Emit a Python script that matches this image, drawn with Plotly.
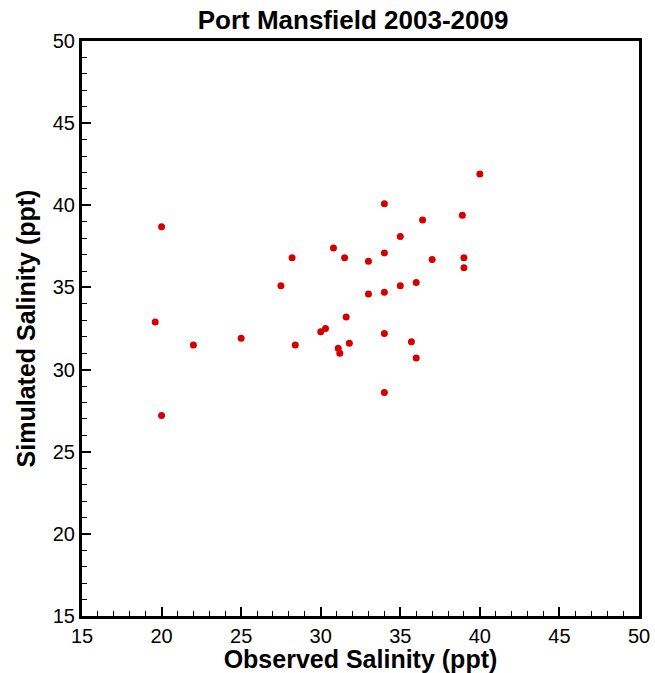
import plotly.graph_objects as go

observed = [20.0, 28.2, 30.8, 31.5, 33.0, 27.5, 33.0, 31.6, 19.6, 30.3, 30.0, 22.0,
            25.0, 28.4, 31.8, 31.1, 31.2, 20.0, 40.0, 34.0, 36.4, 38.9, 35.0, 34.0,
            37.0, 39.0, 39.0, 36.0, 35.0, 34.0, 34.0, 35.7, 36.0, 34.0]
simulated = [38.7, 36.8, 37.4, 36.8, 36.6, 35.1, 34.6, 33.2, 32.9, 32.5, 32.3, 31.5,
             31.9, 31.5, 31.6, 31.3, 31.0, 27.2, 41.9, 40.1, 39.1, 39.4, 38.1, 37.1,
             36.7, 36.8, 36.2, 35.3, 35.1, 34.7, 32.2, 31.7, 30.7, 28.6]
tick_vals = [15, 20, 25, 30, 35, 40, 45, 50]

font_family = "Liberation Sans, Arial, sans-serif"

fig = go.Figure()
fig.add_trace(go.Scatter(
    x=observed, y=simulated, mode="markers",
    marker=dict(color="#d40000", size=7, line=dict(width=0)),
    showlegend=False,
))

axis_common = dict(
    range=[15, 50],
    tickvals=tick_vals,
    ticks="inside", ticklen=9, tickwidth=2, tickcolor="black",
    showline=True, linewidth=3, linecolor="black", mirror=True,
    showgrid=False, zeroline=False, automargin=False,
    tickfont=dict(family=font_family, size=20, color="black"),
    minor=dict(dtick=1, ticks="inside", ticklen=5, tickwidth=1, tickcolor="black", showgrid=False),
)

fig.update_layout(
    width=655, height=673,
    margin=dict(l=82, r=16, t=41, b=57),
    paper_bgcolor="white", plot_bgcolor="white",
    title=dict(text="<b>Port Mansfield 2003-2009</b>", x=0.539, xanchor="center",
               y=0.970, yanchor="middle",
               font=dict(family=font_family, size=26, color="black")),
    xaxis=dict(axis_common,
               title=dict(text="<b>Observed Salinity (ppt)</b>", standoff=0,
                          font=dict(family=font_family, size=25, color="black"))),
    yaxis=dict(axis_common,
               title=dict(text="<b>Simulated Salinity (ppt)</b>", standoff=11,
                          font=dict(family=font_family, size=25, color="black"))),
)

fig.write_html("out.html", config={"displayModeBar": False},
               post_script="document.body.style.margin='0';document.body.style.overflow='hidden';")
